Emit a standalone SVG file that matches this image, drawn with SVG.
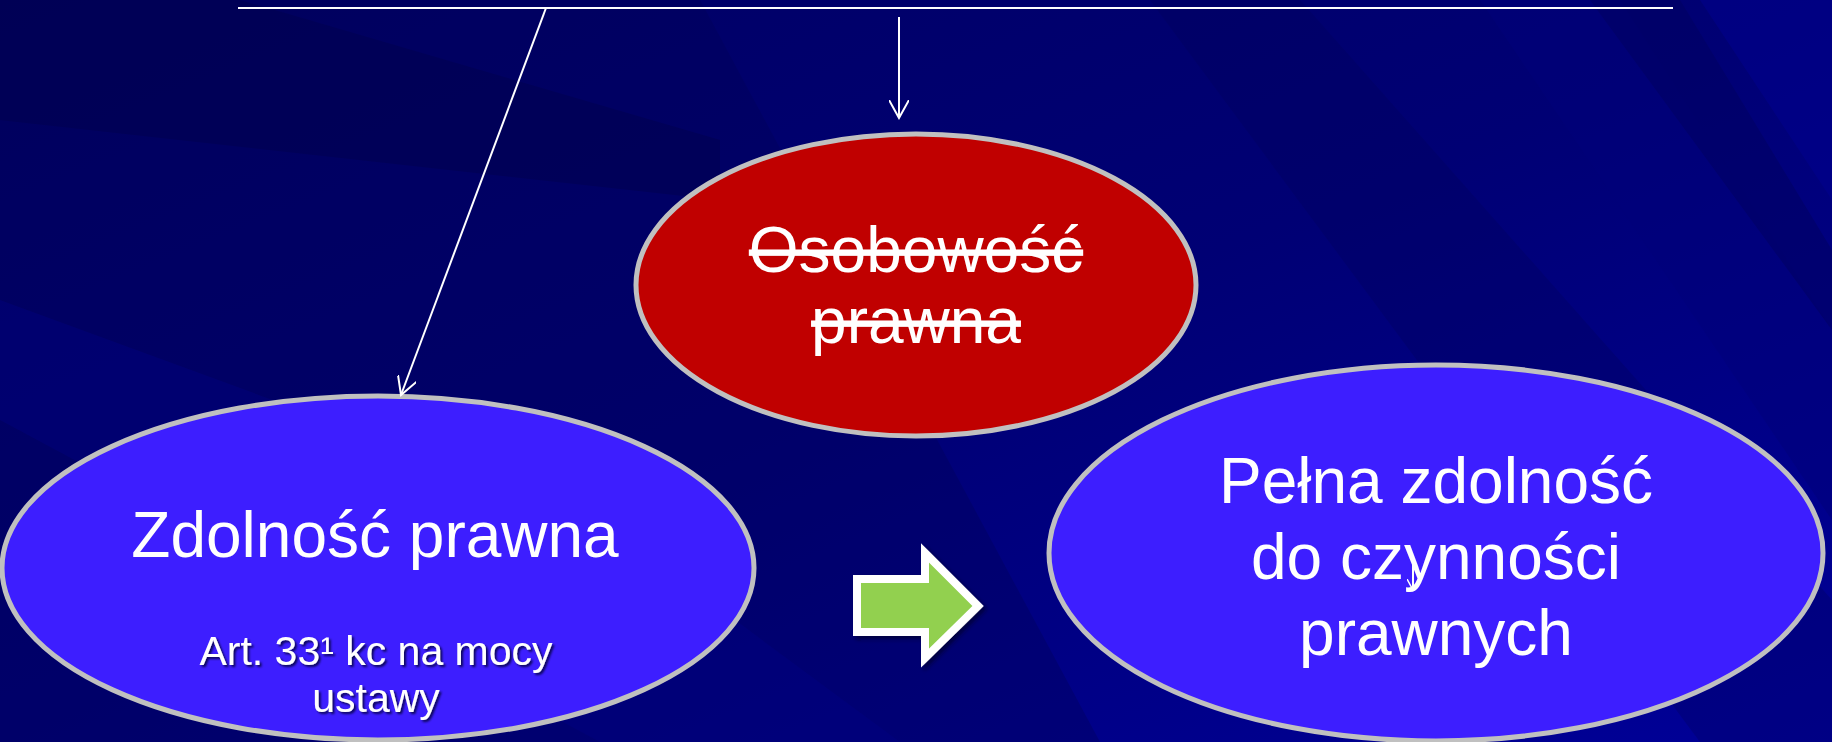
<svg xmlns="http://www.w3.org/2000/svg" width="1832" height="742" viewBox="0 0 1832 742">
<defs>
<linearGradient id="bg" x1="0" y1="0" x2="1" y2="1">
<stop offset="0" stop-color="#000062"/>
<stop offset="0.5" stop-color="#000074"/>
<stop offset="1" stop-color="#000098"/>
</linearGradient>
<marker id="open" viewBox="0 0 20 20" refX="18" refY="10" markerWidth="20" markerHeight="20" markerUnits="userSpaceOnUse" orient="auto">
<path d="M0,0 L18,10 L0,20" fill="none" stroke="#ffffff" stroke-width="2"/>
</marker>
<marker id="small" viewBox="0 0 12 12" refX="11" refY="6" markerWidth="12" markerHeight="12" markerUnits="userSpaceOnUse" orient="auto">
<path d="M0,0 L11,6 L0,12" fill="none" stroke="#ffffff" stroke-width="1.5"/>
</marker>
<filter id="sh" x="-10%" y="-10%" width="130%" height="130%">
<feDropShadow dx="2" dy="2" stdDeviation="1" flood-color="#000030" flood-opacity="0.8"/>
</filter>
<filter id="ash" x="-20%" y="-20%" width="150%" height="150%">
<feDropShadow dx="3" dy="3" stdDeviation="2" flood-color="#000020" flood-opacity="0.6"/>
</filter>
</defs>
<style>
.ell{stroke:#c0c0c0;stroke-width:5}
.big{font-family:"Liberation Sans",Arial,sans-serif;font-size:64px;fill:#ffffff;text-anchor:middle}
.sm{font-family:"Liberation Sans",Arial,sans-serif;font-size:41px;fill:#ffffff;text-anchor:middle}
.conn{stroke:#ffffff;stroke-width:2;fill:none}
</style>
<g id="background">
<rect width="1832" height="742" fill="url(#bg)"/>
<polygon points="0,0 700,0 1100,742 0,742" fill="#000055" opacity="0.35"/>
<polygon points="0,0 240,0 720,140 720,200 0,120" fill="#00004e" opacity="0.5"/>
<polygon points="1480,0 1620,0 1832,330 1832,520" fill="#00007a" opacity="0.5"/>
<polygon points="1590,0 1680,0 1832,250 1832,330" fill="#000060" opacity="0.5"/>
<polygon points="1700,0 1832,0 1832,200" fill="#000090" opacity="0.5"/>
<polygon points="0,300 600,520 900,742 600,742 0,420" fill="#000088" opacity="0.35"/>
<polygon points="1150,0 1300,0 1832,600 1832,742 1700,742" fill="#000058" opacity="0.3"/>
</g>
<g id="node-osobowosc">
<ellipse class="ell" cx="916" cy="285" rx="280" ry="151" fill="#c00000"/>
<text class="big" x="916" y="272" text-decoration="line-through">Osobowość</text>
<text class="big" x="916" y="343" text-decoration="line-through">prawna</text>
</g>
<g id="node-zdolnosc">
<ellipse class="ell" cx="378" cy="568" rx="376" ry="172" fill="#3d1eff"/>
<text class="big" x="375" y="557">Zdolność prawna</text>
<text class="sm" x="376" y="665" filter="url(#sh)">Art. 33¹ kc na mocy</text>
<text class="sm" x="376" y="712" filter="url(#sh)">ustawy</text>
</g>
<g id="node-arrow">
<polygon points="857,579 925,579 925,553 978,606 925,658 925,632 857,632" fill="#92d050" stroke="#ffffff" stroke-width="8" stroke-linejoin="miter" filter="url(#ash)"/>
</g>
<g id="node-pelna">
<ellipse class="ell" cx="1436" cy="553" rx="387" ry="188" fill="#3d1eff"/>
<text class="big" x="1436" y="503">Pełna zdolność</text>
<text class="big" x="1436" y="579">do czynności</text>
<text class="big" x="1436" y="655">prawnych</text>
</g>
<g id="connectors">
<line class="conn" x1="238" y1="8" x2="1673" y2="8"/>
<line class="conn" x1="899" y1="17" x2="899" y2="118" marker-end="url(#open)"/>
<line class="conn" x1="546" y1="8" x2="401" y2="395" marker-end="url(#open)"/>
<line class="conn" x1="1413" y1="560" x2="1413" y2="590" stroke-width="1.5" marker-end="url(#small)"/>
</g>
</svg>
